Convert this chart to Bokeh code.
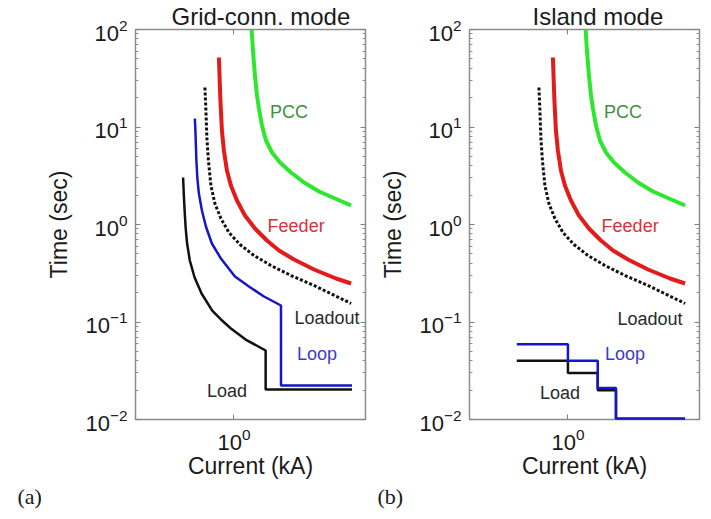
from bokeh.plotting import figure
from bokeh.layouts import row
from bokeh.models import LogAxis, FixedTicker, LogTickFormatter, Label, Range1d, Title
from bokeh.embed import file_html
from bokeh.resources import INLINE

# ---------------- data ----------------
# PCC / Feeder / Loadout curves are the same in both modes
pcc_x = [1.242, 1.262, 1.293, 1.326, 1.358, 1.409, 1.480, 1.593, 1.757, 2.010,
         2.357, 2.832, 3.445, 4.192]
pcc_y = [100.0, 60.9, 33.7, 21.05, 15.48, 10.36, 7.27, 5.476, 4.324, 3.415,
         2.697, 2.180, 1.848, 1.566]

feeder_x = [0.832, 0.8477, 0.8633, 0.8846, 0.9179, 0.9639, 1.0375, 1.1443, 1.2932,
            1.4977, 1.7352, 2.085, 2.6649, 3.4876, 4.192]
feeder_y = [51.6, 18.7, 9.21, 5.74, 3.58, 2.512, 1.763, 1.237, 0.910,
            0.685, 0.541, 0.4375, 0.3455, 0.2793, 0.2482]

loadout_x = [0.7013, 0.7099, 0.7186, 0.732, 0.7545, 0.7923, 0.8528, 0.9406, 1.0762,
             1.2776, 1.5731, 2.0102, 2.6649, 4.192]
loadout_y = [25.42, 14.77, 7.62, 4.533, 2.512, 1.642, 1.152, 0.828, 0.6235,
             0.481, 0.3798, 0.2998, 0.2368, 0.1548]

# (a) grid-connected mode
loop_a_x = [0.620, 0.6242, 0.628, 0.6318, 0.6396, 0.6514, 0.676, 0.7099, 0.7636,
            0.8528, 1.0123, 1.2017, 1.444, 1.7783, 1.7783, 4.24]
loop_a_y = [12.22, 9.21, 6.46, 4.533, 2.963, 2.079, 1.392, 0.954, 0.6384,
            0.448, 0.2928, 0.2312, 0.1826, 0.1476, 0.0223, 0.0223]

load_a_x = [0.537, 0.542, 0.547, 0.5544, 0.564, 0.583, 0.618, 0.673, 0.767, 0.8528,
            0.9639, 1.154, 1.474, 1.474, 4.24]
load_a_y = [3.03, 1.984, 1.392, 0.910, 0.638, 0.427, 0.286, 0.196, 0.131, 0.1061,
            0.0858, 0.0661, 0.0510, 0.0203, 0.0203]

# (b) island mode (definite-time steps)
loop_b_x = [0.535, 1.0, 1.0, 1.44, 1.44, 1.8, 1.8, 4.19]
loop_b_y = [0.059, 0.059, 0.040, 0.040, 0.021, 0.021, 0.0102, 0.0102]

load_b_x = [0.535, 1.0, 1.0, 1.44, 1.44, 1.8, 1.8, 4.19]
load_b_y = [0.040, 0.040, 0.030, 0.030, 0.020, 0.020, 0.0102, 0.0102]

y_ticks = [0.01, 0.1, 1, 10, 100]
x_ticks = [1]
titles = ["Grid-conn. mode", "Island mode"]
tags = ["(a)", "(b)"]

# label anchor positions (data coords) per panel
label_pos = {
    "a": {"PCC": (1.96, 14.1), "Feeder": (2.14, 0.966), "Loadout": (3.12, 0.111),
          "Loop": (2.76, 0.0475), "Load": (0.918, 0.0194)},
    "b": {"PCC": (1.96, 14.1), "Feeder": (2.14, 0.966), "Loadout": (2.73, 0.108),
          "Loop": (2.01, 0.0475), "Load": (0.907, 0.0189)},
}

FONT = "Liberation Sans"
GREEN = "#2fe62f"
RED = "#e41b1b"
BLUE = "#1616c8"
BLACK = "#111111"
label_colors = {"PCC": "#3f8f3f", "Feeder": "#d83236", "Loadout": "#2a2a2a",
                "Loop": "#3b3bcc", "Load": "#2a2a2a"}

y_minor = [m * 10.0 ** e for e in range(-2, 2) for m in range(2, 10)]


def style_axis(ax, show_labels):
    ax.axis_line_color = None
    ax.major_tick_in = 5
    ax.major_tick_out = 0
    ax.minor_tick_in = 3
    ax.minor_tick_out = 0
    ax.major_tick_line_color = "#808080"
    ax.minor_tick_line_color = "#909090"
    if show_labels:
        ax.major_label_text_font = FONT
        ax.major_label_text_font_size = "22px"
        ax.major_label_text_color = "#1a1a1a"
        ax.major_label_standoff = 8
        ax.axis_label_text_font = FONT
        ax.axis_label_text_font_size = "23px"
        ax.axis_label_text_font_style = "normal"
        ax.axis_label_text_color = "#1a1a1a"
    else:
        ax.major_label_text_font_size = "0px"
        ax.major_label_text_color = None
        ax.major_label_standoff = 0


def make_panel(key, title, tag, loop_x, loop_y, load_x, load_y,
               left_border, right_border, title_offset, tag_offset):
    p = figure(x_axis_type="log", y_axis_type="log",
               x_range=Range1d(0.3, 5), y_range=Range1d(0.01, 100),
               frame_width=230, frame_height=390,
               min_border_left=left_border, min_border_right=right_border,
               min_border_top=29, min_border_bottom=95,
               output_backend="svg", toolbar_location=None)
    p.grid.visible = False
    p.outline_line_color = "#8c8c8c"
    p.outline_line_width = 1.5

    xa = p.xaxis[0]
    xa.ticker = FixedTicker(ticks=x_ticks)
    xa.formatter = LogTickFormatter()
    xa.axis_label = "Current (kA)"
    style_axis(xa, True)
    xa.axis_label_standoff = 0

    ya = p.yaxis[0]
    ya.ticker = FixedTicker(ticks=y_ticks, minor_ticks=y_minor)
    ya.formatter = LogTickFormatter()
    ya.axis_label = "Time (sec)"
    style_axis(ya, True)
    ya.axis_label_standoff = 10

    top = LogAxis(ticker=FixedTicker(ticks=x_ticks))
    style_axis(top, False)
    p.add_layout(top, "above")
    right = LogAxis(ticker=FixedTicker(ticks=y_ticks, minor_ticks=y_minor))
    style_axis(right, False)
    p.add_layout(right, "right")

    p.line(pcc_x, pcc_y, line_color=GREEN, line_width=4)
    p.line(feeder_x, feeder_y, line_color=RED, line_width=4)
    p.line(loadout_x, loadout_y, line_color=BLACK, line_width=3, line_dash="3 2")
    p.line(load_x, load_y, line_color=BLACK, line_width=2.5)
    p.line(loop_x, loop_y, line_color=BLUE, line_width=2.5)

    for name, (lx, ly) in label_pos[key].items():
        p.add_layout(Label(x=lx, y=ly, text=name, text_align="center",
                           text_baseline="middle", text_font=FONT,
                           text_font_size="18px", text_color=label_colors[name]))

    p.add_layout(Title(text=title, align="left", offset=title_offset, standoff=0,
                       text_font=FONT, text_font_size="24px", text_font_style="normal",
                       text_color="#1a1a1a"), "above")
    p.add_layout(Title(text=tag, align="left", offset=tag_offset, standoff=0,
                       text_font="Liberation Serif", text_font_size="22px",
                       text_font_style="normal", text_color="#1a1a1a"), "below")
    return p


p1 = make_panel("a", titles[0], tags[0], loop_a_x, loop_a_y, load_a_x, load_a_y,
                135, 10, 36, -118)
p2 = make_panel("b", titles[1], tags[1], loop_b_x, loop_b_y, load_b_x, load_b_y,
                94, 6, 63, -92)

layout = row(p1, p2)
open("out.html", "w").write(file_html(layout, INLINE))
